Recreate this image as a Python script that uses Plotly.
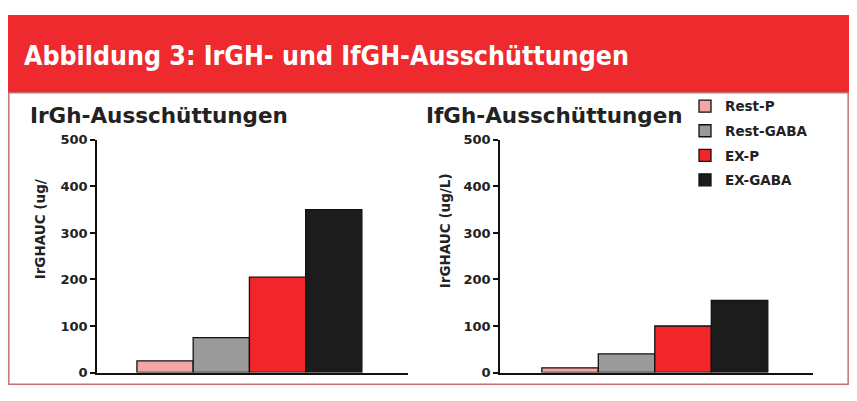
import plotly.graph_objects as go

# Page is 857x401; the browser body keeps an 8px margin, so the figure is sized to fit inside.
PAGE_W, PAGE_H = 857, 401
OFF = 8
W, H = PAGE_W - 2 * OFF, PAGE_H - 2 * OFF

series = ["Rest-P", "Rest-GABA", "EX-P", "EX-GABA"]
colors = ["#f4a5a5", "#9a9a9a", "#f0262b", "#1c1c1c"]
irgh_values = [25, 75, 205, 350]
ifgh_values = [10, 40, 100, 155]
y_ticks = [0, 100, 200, 300, 400, 500]

main_title = "Abbildung 3: IrGH- und IfGH-Ausschüttungen"
left_title = "IrGh-Ausschüttungen"
right_title = "IfGh-Ausschüttungen"
left_ytitle = "IrGHAUC (ug/"
right_ytitle = "IrGHAUC (ug/L)"

FONT = "DejaVu Sans"
TITLE_FONT = "DejaVu Sans Condensed, DejaVu Sans"

def px(x):
    return (x - OFF) / W

def py(y):
    return 1 - (y - OFF) / H

fig = go.Figure()
for i, name in enumerate(series):
    fig.add_trace(go.Bar(
        x=[name], y=[irgh_values[i]], name=name, width=1,
        marker=dict(color=colors[i], line=dict(color="#111111", width=1.3)),
        xaxis="x", yaxis="y", legendgroup=name, showlegend=True,
    ))
for i, name in enumerate(series):
    fig.add_trace(go.Bar(
        x=[name], y=[ifgh_values[i]], name=name, width=1,
        marker=dict(color=colors[i], line=dict(color="#111111", width=1.3)),
        xaxis="x2", yaxis="y2", legendgroup=name, showlegend=False,
    ))

ydom = [py(380), py(138)]
axis_common = dict(showgrid=False, zeroline=False, showline=True, linecolor="#111111", linewidth=1.5)
tickfont = dict(family=FONT, size=13, color="#222222", weight="bold")
fig.update_layout(
    width=W, height=H,
    margin=dict(l=0, r=0, t=0, b=0),
    paper_bgcolor="white", plot_bgcolor="rgba(0,0,0,0)",
    barmode="overlay",
    showlegend=True,
    font=dict(family=FONT, color="#222222"),
    xaxis=dict(domain=[px(97), px(408)], type="category", range=[-1.21, 4.32],
               showticklabels=False, ticks="", **axis_common),
    yaxis=dict(domain=ydom, range=[0, 500], tickvals=y_ticks, ticks="outside", ticklen=5,
               tickwidth=1.5, tickcolor="#111111", tickfont=tickfont, **axis_common),
    xaxis2=dict(domain=[px(500), px(813)], type="category", range=[-1.24, 4.30],
                showticklabels=False, ticks="", anchor="y2", **axis_common),
    yaxis2=dict(domain=ydom, range=[0, 500], tickvals=y_ticks, ticks="outside", ticklen=5,
                tickwidth=1.5, tickcolor="#111111", anchor="x2", tickfont=tickfont, **axis_common),
    legend=dict(x=px(685), y=py(87), xanchor="left", yanchor="top",
                bgcolor="rgba(0,0,0,0)", tracegroupgap=4,
                font=dict(family=FONT, size=13.5, color="#222222", weight="bold")),
)

# header band and frame
fig.add_shape(type="rect", xref="paper", yref="paper", x0=0, x1=1, y0=py(89), y1=1,
              fillcolor="#ee2a2e", line=dict(width=0), layer="below")
fig.add_shape(type="rect", xref="paper", yref="paper", x0=0.001, x1=0.999, y0=0.002, y1=py(89),
              fillcolor="rgba(0,0,0,0)", line=dict(color="#c77070", width=1.5), layer="below")

fig.add_annotation(text=main_title, xref="paper", yref="paper", x=px(22), y=py(50),
                   xanchor="left", yanchor="middle", showarrow=False,
                   font=dict(family=TITLE_FONT, size=26.5, color="white", weight="bold"))
fig.add_annotation(text=left_title, xref="paper", yref="paper", x=px(28), y=py(113),
                   xanchor="left", yanchor="middle", showarrow=False,
                   font=dict(family=FONT, size=21.5, color="#222222", weight="bold"))
fig.add_annotation(text=right_title, xref="paper", yref="paper", x=px(424), y=py(113),
                   xanchor="left", yanchor="middle", showarrow=False,
                   font=dict(family=FONT, size=21.5, color="#222222", weight="bold"))
fig.add_annotation(text=left_ytitle, xref="paper", yref="paper", x=px(40), y=py(231),
                   xanchor="center", yanchor="middle", showarrow=False, textangle=-90,
                   font=dict(family=FONT, size=13.5, color="#222222", weight="bold"))
fig.add_annotation(text=right_ytitle, xref="paper", yref="paper", x=px(445), y=py(233),
                   xanchor="center", yanchor="middle", showarrow=False, textangle=-90,
                   font=dict(family=FONT, size=13.5, color="#222222", weight="bold"))

fig.write_html("out.html")
